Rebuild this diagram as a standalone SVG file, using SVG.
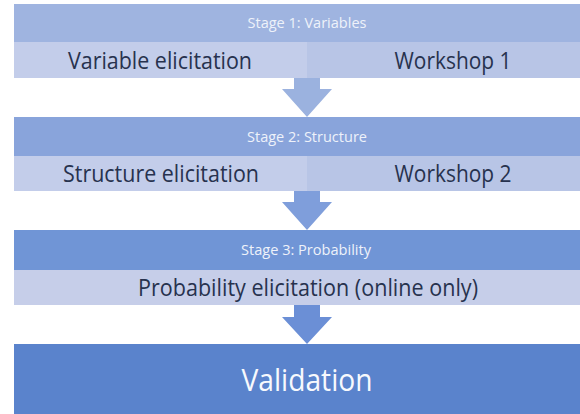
<svg xmlns="http://www.w3.org/2000/svg" width="580" height="414" viewBox="0 0 580 414">
  <style>
    .big { font-family: "Open Sans", "Liberation Sans", sans-serif; font-size: 23.5px; fill: #27324e; text-anchor: middle; }
    .head { font-family: "Open Sans", "Liberation Sans", sans-serif; font-size: 14.5px; fill: #eef2fa; text-anchor: middle; }
    .val { font-family: "Open Sans", "Liberation Sans", sans-serif; font-size: 31px; fill: #f7f9fd; text-anchor: middle; }
    .sub-l { fill: #c3cdea; }
    .sub-r { fill: #b8c5e6; }
  </style>
  <rect width="580" height="414" fill="#ffffff"/>

  <!-- Stage 1 -->
  <g id="stage1">
    <rect x="14" y="4" width="586" height="38" fill="#9fb4e0"/>
    <text class="head" x="307" y="28" textLength="119" lengthAdjust="spacingAndGlyphs">Stage 1: Variables</text>
  </g>
  <g id="variable-elicitation">
    <rect class="sub-l" x="14" y="42" width="293" height="36"/>
    <text class="big" x="160" y="69" textLength="184" lengthAdjust="spacingAndGlyphs">Variable elicitation</text>
  </g>
  <g id="workshop1">
    <rect class="sub-r" x="307" y="42" width="293" height="36"/>
    <text class="big" x="453" y="69" textLength="117" lengthAdjust="spacingAndGlyphs">Workshop 1</text>
  </g>

  <!-- Stage 2 -->
  <g id="stage2">
    <rect x="14" y="117" width="586" height="39" fill="#89a4db"/>
    <text class="head" x="307" y="142" textLength="120" lengthAdjust="spacingAndGlyphs">Stage 2: Structure</text>
  </g>
  <g id="structure-elicitation">
    <rect class="sub-l" x="14" y="156" width="293" height="35"/>
    <text class="big" x="161" y="182" textLength="196" lengthAdjust="spacingAndGlyphs">Structure elicitation</text>
  </g>
  <g id="workshop2">
    <rect class="sub-r" x="307" y="156" width="293" height="35"/>
    <text class="big" x="453" y="182" textLength="117" lengthAdjust="spacingAndGlyphs">Workshop 2</text>
  </g>

  <!-- Stage 3 -->
  <g id="stage3">
    <rect x="14" y="230" width="586" height="40" fill="#7095d6"/>
    <text class="head" x="306" y="255" textLength="130" lengthAdjust="spacingAndGlyphs">Stage 3: Probability</text>
  </g>
  <g id="probability-elicitation">
    <rect x="14" y="270" width="586" height="35" fill="#c6cee9"/>
    <text class="big" x="308" y="296" textLength="340" lengthAdjust="spacingAndGlyphs">Probability elicitation (online only)</text>
  </g>

  <!-- Validation -->
  <g id="validation">
    <rect x="14" y="344" width="586" height="80" fill="#5a83cc"/>
    <text class="val" x="307" y="391" textLength="131" lengthAdjust="spacingAndGlyphs">Validation</text>
  </g>

  <!-- Block arrows between stages -->
  <g id="connectors">
    <path d="M294 78 H320 V89 H332 L307 117 L282 89 H294 Z" fill="#9bb2df"/>
    <path d="M294 191 H320 V202 H332 L307 230 L282 202 H294 Z" fill="#7f9edb"/>
    <path d="M294 305 H320 V317 H332 L307 344 L282 317 H294 Z" fill="#6b8fd6"/>
  </g>
</svg>
